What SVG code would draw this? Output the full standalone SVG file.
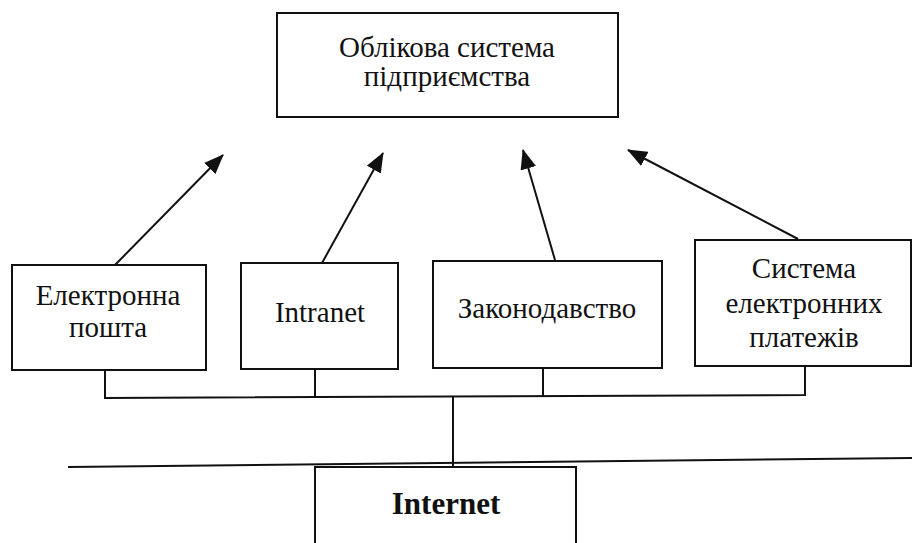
<svg xmlns="http://www.w3.org/2000/svg" width="912" height="543" viewBox="0 0 912 543">
<style>
.box{fill:#fff;stroke:#111;stroke-width:2}
.t{font-family:"Liberation Serif","Times New Roman",serif;font-size:29px;fill:#111;text-anchor:middle}
.b{font-weight:bold;font-size:31px}
.c{fill:none;stroke:#111;stroke-width:2}
</style>
<defs>
<marker id="ah" viewBox="0 0 20 16" refX="19" refY="8" markerWidth="20" markerHeight="16" markerUnits="userSpaceOnUse" orient="auto">
<path d="M0,0 L20,8 L0,16 Z" fill="#111"/>
</marker>
</defs>
<rect width="912" height="543" fill="#fff"/>
<g id="connectors">
<line class="c" x1="115" y1="265" x2="223" y2="155" marker-end="url(#ah)"/>
<line class="c" x1="322" y1="263" x2="383" y2="153" marker-end="url(#ah)"/>
<line class="c" x1="555" y1="260" x2="523" y2="150" marker-end="url(#ah)"/>
<line class="c" x1="798" y1="239" x2="628" y2="150" marker-end="url(#ah)"/>
<polyline class="c" points="105,370 105,398 805,395 805,366"/>
<line class="c" x1="315" y1="369" x2="315" y2="397"/>
<line class="c" x1="543" y1="368" x2="543" y2="396"/>
<line class="c" x1="453" y1="397" x2="453" y2="466"/>
<line class="c" x1="68" y1="467" x2="912" y2="458"/>
</g>
<g id="n-oblik">
<rect class="box" x="277" y="13" width="341" height="104"/>
<text class="t" x="447" y="57">Облікова система</text>
<text class="t" x="447" y="86">підприємства</text>
</g>
<g id="n-email">
<rect class="box" x="12" y="265" width="194" height="105"/>
<text class="t" x="108" y="305">Електронна</text>
<text class="t" x="108" y="337">пошта</text>
</g>
<g id="n-intranet">
<rect class="box" x="241" y="263" width="157" height="106"/>
<text class="t" x="320" y="322">Intranet</text>
</g>
<g id="n-law">
<rect class="box" x="433" y="261" width="229" height="107"/>
<text class="t" x="547" y="318">Законодавство</text>
</g>
<g id="n-payments">
<rect class="box" x="695" y="240" width="216" height="126"/>
<text class="t" x="804" y="278">Система</text>
<text class="t" x="804" y="313">електронних</text>
<text class="t" x="804" y="347">платежів</text>
</g>
<g id="n-internet">
<rect class="box" x="315" y="467" width="261" height="90"/>
<text class="t b" x="446" y="514">Internet</text>
</g>
</svg>
